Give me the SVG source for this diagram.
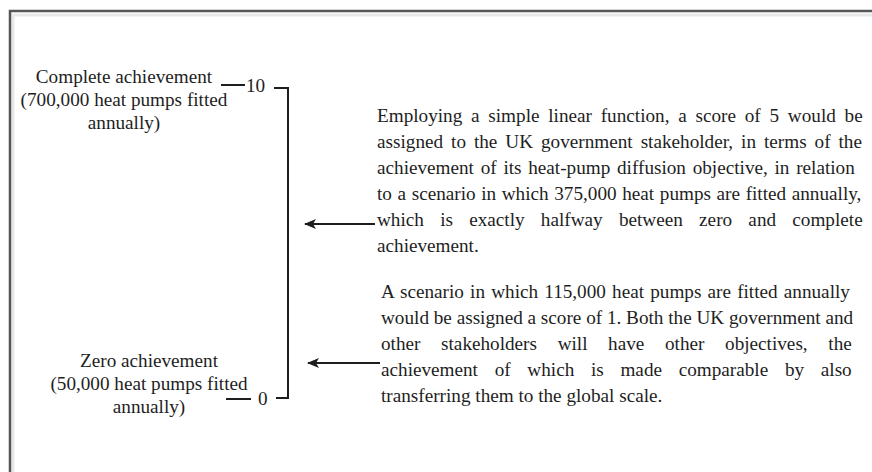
<svg xmlns="http://www.w3.org/2000/svg" width="872" height="472" viewBox="0 0 872 472">
  <style>
    .t { font-family: "Liberation Serif", "Times New Roman", serif; font-size: 19.2px; fill: #1e1e1e; }
    .c { text-anchor: middle; }
    .ln { stroke: #1e1e1e; stroke-width: 2; fill: none; }
    .frame { stroke: #555; stroke-width: 2.5; fill: none; }
    .shade { stroke: #e6e8ea; stroke-width: 3; fill: none; }
  </style>
  <defs>
    <!-- barbed head, drawn pointing along the line direction -->
    <marker id="head" viewBox="0 0 12 10" refX="11" refY="5" markerWidth="12" markerHeight="10" markerUnits="userSpaceOnUse" orient="auto">
      <path d="M12 5 L0 0 L3 5 L0 10 Z" fill="#1e1e1e"/>
    </marker>
  </defs>

  <rect width="872" height="472" fill="#fff"/>

  <!-- outer frame, open to the right and bottom -->
  <g id="frame">
    <path class="shade" d="M13 472 V15 H872"/>
    <path class="frame" d="M10 472 V11 H872"/>
  </g>

  <!-- 0–10 scale bracket with end ticks -->
  <g id="scale">
    <path class="ln" d="M274 88 H288 V398 H276"/>
    <path class="ln" d="M221 85 H245"/>
    <text class="t" x="246" y="92">10</text>
    <path class="ln" d="M226 399 H251"/>
    <text class="t" x="258" y="405">0</text>
  </g>

  <g id="label-complete">
    <text class="t c" x="124" y="83">Complete achievement</text>
    <text class="t c" x="124" y="106">(700,000 heat pumps fitted</text>
    <text class="t c" x="124" y="129">annually)</text>
  </g>

  <g id="label-zero">
    <text class="t c" x="149" y="367">Zero achievement</text>
    <text class="t c" x="149" y="390">(50,000 heat pumps fitted</text>
    <text class="t c" x="149" y="413">annually)</text>
  </g>

  <!-- justified note: score of 5 -->
  <g id="note-halfway">
    <text class="t" x="377" y="122" word-spacing="3.97">Employing a simple linear function, a score of 5 would be</text>
    <text class="t" x="377" y="148" word-spacing="3.17">assigned to the UK government stakeholder, in terms of the</text>
    <text class="t" x="377" y="174" word-spacing="1.93">achievement of its heat-pump diffusion objective, in relation</text>
    <text class="t" x="377" y="200" word-spacing="0.82">to a scenario in which 375,000 heat pumps are fitted annually,</text>
    <text class="t" x="377" y="226" word-spacing="11.46">which is exactly halfway between zero and complete</text>
    <text class="t" x="377" y="252">achievement.</text>
  </g>

  <!-- justified note: score of 1 -->
  <g id="note-score1">
    <text class="t" x="381" y="298" word-spacing="1.38">A scenario in which 115,000 heat pumps are fitted annually</text>
    <text class="t" x="381" y="324">would be assigned a score of 1. Both the UK government and</text>
    <text class="t" x="381" y="350" word-spacing="15.85">other stakeholders will have other objectives, the</text>
    <text class="t" x="381" y="376" word-spacing="11.91">achievement of which is made comparable by also</text>
    <text class="t" x="381" y="402">transferring them to the global scale.</text>
  </g>

  <g id="connectors">
    <line class="ln" x1="375" y1="224" x2="305" y2="224" marker-end="url(#head)"/>
    <line class="ln" x1="380" y1="363" x2="308" y2="363" marker-end="url(#head)"/>
  </g>
</svg>
